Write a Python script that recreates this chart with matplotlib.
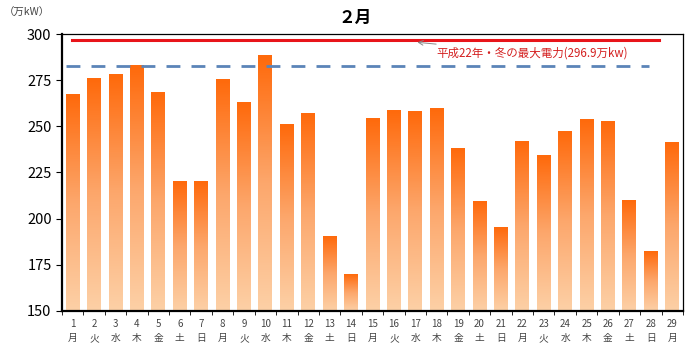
import numpy as np
import matplotlib.pyplot as plt
from matplotlib.colors import LinearSegmentedColormap

plt.rcParams['font.family'] = ['Noto Sans CJK JP', 'DejaVu Sans']

days = list(range(1, 30))
weekdays = ['月', '火', '水', '木', '金', '土', '日'] * 5
weekdays = weekdays[:29]
demand = [267.5, 276, 278, 283, 268.5, 220, 220, 275.5, 263, 288.5,
          251, 257, 190.5, 170, 254, 258.5, 258, 259.5, 238, 209.5,
          195, 242, 234, 247, 253.5, 252.5, 210, 182, 241.5]
peak_last_winter = 296.9
forecast_line = 282.5
y_ticks = [150, 175, 200, 225, 250, 275, 300]

fig = plt.figure(figsize=(7, 3.63), dpi=100)
ax = fig.add_axes([0.0886, 0.1433, 0.887, 0.763])

# vertical gradient per bar, light at the base, deep orange at the top
cmap = LinearSegmentedColormap.from_list('og', ['#fdd0a6', '#fca76c', '#ff6a0c'])
grad = np.linspace(0, 1, 100).reshape(-1, 1)
w = 0.65
for i, v in enumerate(demand):
    ax.imshow(grad, cmap=cmap, origin='lower', aspect='auto',
              extent=[i - w / 2, i + w / 2, 150, v], zorder=2)

ax.set_xlim(-0.5, len(days) - 0.5)
ax.set_ylim(150, 300)

ax.plot([-0.05, 27.4], [peak_last_winter] * 2, color='#e8141a', lw=2.2, zorder=3)
ax.plot([-0.3, 26.9], [forecast_line] * 2, color='#5b84b8', lw=2, dashes=(5, 4), zorder=3)

ax.annotate('平成22年・冬の最大電力(296.9万kw)', xy=(16.1, 295.5), xytext=(17.0, 289.5),
            color='#d42020', fontsize=8.3, va='center', ha='left',
            arrowprops=dict(arrowstyle='->', color='#888888', lw=0.7,
                            shrinkA=0, shrinkB=0))

ax.set_yticks(y_ticks)
ax.set_yticklabels([str(t) for t in y_ticks], fontsize=10.5)
ax.set_xticks(np.arange(len(days)))
ax.set_xticklabels([f'{d}\n{wd}' for d, wd in zip(days, weekdays)],
                   fontsize=7, color='#444444', linespacing=1.5)
ax.set_xticks(np.arange(len(days) + 1) - 0.5, minor=True)
ax.tick_params(axis='x', which='major', length=0, pad=6)
ax.tick_params(axis='x', which='minor', length=3, direction='out')
ax.tick_params(axis='y', length=4, direction='out')

for s in ['left', 'bottom']:
    ax.spines[s].set_linewidth(1.6)
for s in ['top', 'right']:
    ax.spines[s].set_linewidth(0.9)

fig.text(0.507, 0.95, '２月', ha='center', va='center', fontsize=12, fontweight='bold')
fig.text(0.005, 0.965, '（万kW）', ha='left', va='center', fontsize=7.5, color='#444444')

fig.savefig('out.png', dpi=100)
